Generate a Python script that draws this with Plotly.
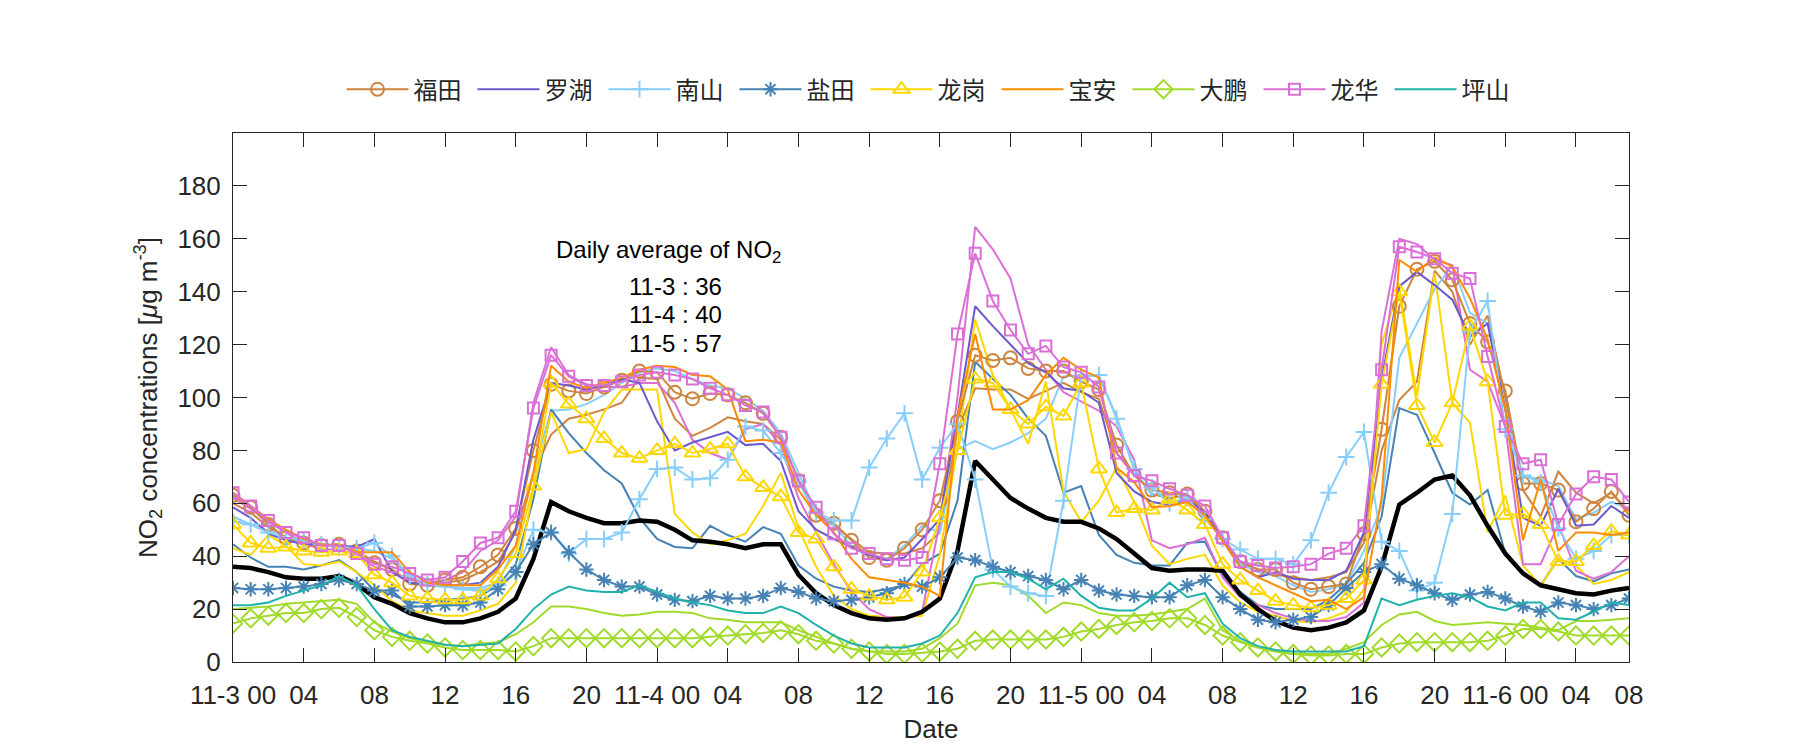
import plotly.graph_objects as go

hours = list(range(80))
tick_vals = [0, 4, 8, 12, 16, 20, 24, 28, 32, 36, 40, 44, 48, 52, 56, 60, 64, 68, 72, 76, 79]
tick_text = ["11-3 00", "04", "08", "12", "16", "20", "11-4 00", "04", "08", "12", "16", "20",
             "11-5 00", "04", "08", "12", "16", "20", "11-6 00", "04", "08"]
y_ticks = [0, 20, 40, 60, 80, 100, 120, 140, 160, 180]

# Observed stations (legend series)
futian = [63, 58.5, 52, 47, 45, 44, 44.5, 42, 37.5, 35, 29.5, 29, 31, 32,
          36, 40.5, 50.5, 80, 105, 102.5, 101.5, 104, 106.5, 110, 109.5, 102, 99.5,
          101.5, 101, 98, 94, 85, 68.5, 55.5, 52.5, 46, 39.5, 38.5, 43, 50,
          61, 91, 116, 114, 115, 111, 110, 110, 106, 103, 82, 70.5, 65,
          64, 63.5, 57, 47, 38, 35, 35, 30, 27.5, 28.5, 29.5, 48.5, 88,
          134.5, 148.5, 151.5, 144.5, 128, 121, 102.5, 67.5, 67.5, 65, 53, 58, 64.5, 55.5]
luohu = [58.5, 54.5, 48.5, 46, 44.5, 44.5, 44, 43.5, 46.5, 34, 30, 29, 29, 29,
         30, 36, 50, 84, 105.5, 104.5, 103, 104.5, 107, 105.5, 91, 80, 83,
         85, 87, 82, 82.5, 76, 57, 50, 46.5, 43.5, 40.5, 38.5, 39.5, 46.5,
         54, 93, 134.5, 127, 120, 113, 109.5, 103.5, 102.5, 98, 71.5, 64.5, 60.5,
         59.5, 61.5, 56.5, 46, 36, 32, 34, 31.5, 31, 31, 34.5, 49, 107,
         142, 147.5, 142.5, 137, 123, 128, 95.5, 54.5, 51.5, 65.5, 51.5, 52, 59, 54.5]
nanshan = [53, 52, 49, 47, 46, 44.5, 43.5, 43, 45, 40, 32.5, 29.5, 28.5, 27.5,
           27, 29, 34, 50, 49, 41, 46.5, 46.5, 49, 61.5, 73, 73.5, 69,
           69.5, 76.5, 89, 87.5, 79, 68, 56.5, 53.5, 53.5, 73.5, 84.5, 94, 69,
           81, 90, 69, 35, 28.5, 26, 25, 61, 108, 108.5, 92, 73, 66,
           60, 62, 54, 46.5, 42.5, 39, 39, 37, 46, 64, 77.5, 87, 45.5,
           42, 27, 30, 56, 125, 136.5, 88, 70.5, 68, 50.5, 39, 42, 48, 48]
yantian = [28, 27.5, 27.5, 28, 28.5, 29.5, 31, 29.5, 27, 27, 21, 21, 21.5, 21.5,
           22.5, 27.5, 34, 44.5, 49, 41.5, 35, 31, 28.5, 28.5, 25.5, 23.5, 23,
           25, 24, 24, 25, 28, 26.5, 24, 23, 23.5, 24.5, 26, 29.5, 28.5,
           32, 39.5, 38.5, 36, 34, 32.5, 31, 27.5, 31, 27, 25.5, 25, 24.5,
           24.5, 29, 31, 24.5, 20, 16, 15, 16, 17, 21.5, 28, 34, 37,
           31.5, 29, 26, 23.5, 25.5, 26.5, 24, 21, 19, 22.5, 21.5, 20, 21.5, 24]
longgang = [52, 45, 43, 43.5, 42, 41.5, 42, 41, 33, 30, 25, 24, 23.5, 23.5,
            25, 31.5, 41, 66.5, 105.5, 97.5, 92, 84.5, 79, 77, 80, 82.5, 79,
            80.5, 82.5, 70, 66, 62.5, 49, 46.5, 36, 27.5, 25, 23.5, 24.5, 34,
            54.5, 80, 107, 105.5, 95.5, 90, 96.5, 93, 105.5, 73, 56.5, 58, 57.5,
            61.5, 57.5, 52, 37, 31, 27, 23, 21.5, 20.5, 21.5, 24, 31, 105,
            140, 97, 83, 98, 127, 106, 55.5, 56, 52, 38, 38, 44, 49.5, 48]
baoan = [64, 59, 54, 50, 46.5, 44.5, 44, 41.5, 41.5, 41.5, 34, 30, 29, 29,
         29, 35, 44, 71.5, 112, 106, 103.5, 105.5, 107.5, 110.5, 112, 111.5, 108.5,
         108, 103, 83.5, 84, 83, 65, 55.5, 49, 39, 32, 31, 30, 28.5,
         25, 93, 124, 95.5, 95.5, 99, 108.5, 115, 110.5, 107.5, 73.5, 68, 58.5,
         59, 60.5, 55.5, 45.5, 36, 32, 29, 26, 23, 23.5, 20, 24.5, 62,
         152, 147.5, 153, 149.5, 137.5, 122, 95.5, 46, 69, 42, 49, 49, 48, 49]
dapeng = [14.5, 16.5, 17.5, 18.5, 18.5, 20, 20.5, 17, 12, 9.5, 8, 7, 5.5, 4.5,
          4.5, 4.5, 4, 6, 9, 9, 9, 9, 9, 9, 9, 9, 9,
          9.5, 10, 10.5, 11, 12, 10.5, 8, 7, 5, 4, 3, 3, 3.5,
          4, 5, 8, 8.5, 8.5, 8.5, 8.5, 9.5, 11.5, 12.5, 14, 15, 15.5,
          16.5, 16.5, 14, 10, 7.5, 5.5, 4, 3, 2.5, 2.5, 3, 3, 5.5,
          7, 7.5, 7.5, 7.5, 7.5, 8, 10, 12.5, 12.5, 11.5, 10, 10, 10, 10]
longhua = [64, 59, 53.5, 49, 47, 44, 44, 41, 37, 36, 33.5, 31, 32, 38,
           45, 47, 57, 96, 116, 108, 104.5, 104.5, 106, 108.5, 109.5, 108.5, 107,
           103.5, 101, 97, 94.5, 85, 68.5, 58.5, 48.5, 43, 41, 39, 38.5, 39.5,
           75, 124, 154.5, 136.5, 125.5, 116.5, 119.5, 111.5, 109.5, 104, 79, 70.5, 68.5,
           65.5, 63, 59, 47, 38, 36.5, 35.5, 36, 37, 41, 43, 51.5, 110.5,
           157, 155, 152.5, 147, 145, 115.5, 89, 75, 76.5, 52, 63.5, 70, 69, 60.5]
pingshan = [21.5, 21.5, 22.5, 25, 27, 29, 32.5, 29, 20, 12, 9.5, 8, 6.5, 6,
            6.5, 7, 12.5, 20, 25.5, 28.5, 27, 26.5, 26.5, 29, 26.5, 24, 22.5,
            21.5, 19.5, 18.5, 18.5, 21, 18.5, 14, 10, 7, 5.5, 5.5, 5.5, 7,
            10, 18.5, 32, 34, 34, 31.5, 27.5, 31.5, 25, 20.5, 19.5, 19.5, 24,
            30, 24.5, 26, 14.5, 9, 6, 4.5, 4, 4, 4, 4, 6, 24,
            21.5, 23.5, 25, 26, 24.5, 21, 19.5, 22.5, 22.5, 16.5, 16, 19, 22.5, 21.5]

# Unlabelled companion lines (same colours, no markers)
futian_b = [60, 56.5, 51, 47, 45, 44, 44.5, 42, 38, 35, 30, 29, 30, 31,
            34, 38, 49, 71.5, 86, 92, 93.5, 95.5, 98, 107.5, 107, 92, 85.5,
            88.5, 92.5, 91, 90, 84, 69, 55.5, 51.5, 46.5, 41.5, 41, 41, 43,
            49, 88, 103.5, 103, 103, 99.5, 102.5, 105.5, 102, 99.5, 79, 71.5, 63.5,
            62, 63, 56, 46, 37.5, 35, 33, 32, 31, 32, 34, 45, 80,
            99, 106, 148, 140, 120, 131, 100, 65, 55, 72, 64, 60, 64, 57]
nanshan_b = [55, 52, 49, 46.5, 45.5, 44.5, 44, 43, 42, 39, 32, 29, 28.5, 28,
             28, 30, 44, 72, 95, 95.5, 97.5, 101, 105.5, 109.5, 111, 110, 107,
             104.5, 103.5, 99.5, 95, 86.5, 71.5, 56.5, 51.5, 44, 39.5, 39, 44, 51.5,
             49, 80.5, 83.5, 80.5, 83, 86.5, 92, 108, 108.5, 108, 93, 72.5, 63,
             64, 62, 55, 46.5, 37, 34, 32.5, 29, 26.5, 27.5, 29.5, 42, 59,
             115, 128, 141, 150, 132, 128, 95.5, 70.5, 69, 66.5, 54, 56.5, 60.5, 58]
yantian_b = [44.5, 39.5, 36, 36, 35, 36.5, 38.5, 34, 27, 25.5, 22.5, 22.5, 23.5, 24,
             25, 29, 37, 61.5, 95.5, 86.5, 79, 72.5, 67.5, 54.5, 46.5, 43.5, 43,
             51.5, 48, 45.5, 51, 48.5, 36.5, 31.5, 28.5, 27, 26.5, 27.5, 29, 37,
             41, 61, 113.5, 107, 101, 92, 85.5, 64, 66.5, 48, 40.5, 37.5, 36.5,
             36.5, 45, 45.5, 32.5, 26.5, 21.5, 20, 20, 20, 23.5, 29.5, 37.5, 55,
             96, 93.5, 79, 64, 59.5, 65, 41, 33.5, 29, 39, 32.5, 30.5, 33.5, 35]
longgang_b = [43, 40.5, 48, 44, 37, 36.5, 38, 34, 29, 23, 19.5, 18.5, 17.5, 17.5,
              19.5, 22, 30, 65.5, 94.5, 79, 80.5, 94.5, 103, 103, 103, 56, 49,
              44.5, 46, 48.5, 59, 71.5, 50.5, 36, 25, 20, 17.5, 17, 17, 17.5,
              40.5, 81.5, 129.5, 108.5, 95.5, 82.5, 106, 64.5, 53, 61, 73.5, 60.5, 44,
              37, 39, 40.5, 29, 22.5, 19, 17.5, 15.5, 15, 16.5, 19, 27.5, 120,
              142, 100.5, 147, 98, 90.5, 49, 63, 36.5, 29, 39, 36.5, 29.5, 31, 34]
dapeng_b = [20, 20.5, 21, 22, 22.5, 23, 23.5, 22, 15, 11.5, 9, 7.5, 6.5, 6,
            7, 7.5, 10.5, 15, 21, 21, 20, 18.5, 17.5, 18, 19, 19, 18.5,
            16.5, 16, 15, 15, 15, 12, 9.5, 7, 5, 4, 4, 4, 5,
            9, 14.5, 29, 30, 29, 25, 18.5, 22.5, 21.5, 18.5, 17.5, 17.5, 18,
            19, 20, 24, 12, 8, 5.5, 4, 3, 3, 3, 5, 7.5, 14,
            18, 19, 15.5, 14, 14.5, 15, 14.5, 14, 13, 12, 15.5, 15.5, 16, 16.5]
longhua_b = [62, 58, 53, 49, 45, 42.5, 42.5, 40.5, 36, 34, 31, 30, 31, 34,
             42, 46, 55, 98, 119, 108.5, 105, 104, 104, 105.5, 105.5, 98, 84,
             79, 76.5, 88, 90, 82, 62, 49, 37, 26.5, 20, 17, 16.5, 19,
             53, 100, 164.5, 156, 145, 120, 110.5, 102, 98.5, 95, 89, 76.5, 46,
             43, 44.5, 47, 32, 24.5, 21.5, 18.5, 16.5, 15.5, 15.5, 17, 22.5, 125,
             160, 158, 152, 150, 110.5, 106, 89, 37, 37, 52, 34.5, 31.5, 34, 40]

average = [36, 35.5, 34, 32, 31.5, 31.5, 32.5, 29.5, 24.5, 22, 18.5, 16.5, 15, 15,
           16.5, 19, 24, 39, 60.5, 57, 54.5, 52.5, 52.5, 53.5, 53, 50, 46,
           45.5, 44.5, 43, 44.5, 44.5, 33, 26, 21.5, 18.5, 16.5, 16, 16.5, 19,
           24, 42, 76, 69, 62, 58, 54.5, 53, 53, 50.5, 46.5, 41, 35.5,
           34.5, 35, 35, 34.5, 25.5, 20, 15.5, 13, 12, 13, 15, 19.5, 36,
           59.5, 64, 69, 70.5, 63, 51.5, 41, 33.5, 29, 27.5, 26, 25.5, 27, 28]

daily_avg_title = "Daily average of NO<sub>2</sub>"
daily_avg_labels = ["11-3 : 36", "11-4 : 40", "11-5 : 57"]

C_FUTIAN = "#CD853F"
C_LUOHU = "#6A5ACD"
C_NANSHAN = "#87CEFA"
C_YANTIAN = "#4682B4"
C_LONGGANG = "#FFD700"
C_BAOAN = "#FF8C00"
C_DAPENG = "#A2DA2C"
C_LONGHUA = "#DA70D6"
C_PINGSHAN = "#20B2AA"

fig = go.Figure()

for vals, col in [(futian_b, C_FUTIAN), (nanshan_b, C_NANSHAN), (yantian_b, C_YANTIAN),
                  (longgang_b, C_LONGGANG), (dapeng_b, C_DAPENG), (longhua_b, C_LONGHUA)]:
    fig.add_trace(go.Scatter(x=hours, y=vals, mode="lines", line=dict(color=col, width=2),
                             showlegend=False, hoverinfo="skip"))

fig.add_trace(go.Scatter(x=hours, y=average, mode="lines", line=dict(color="black", width=4.5),
                         showlegend=False))

named = [
    ("福田", futian, C_FUTIAN, "circle-open", 13),
    ("罗湖", luohu, C_LUOHU, None, 0),
    ("南山", nanshan, C_NANSHAN, "cross-thin-open", 12),
    ("盐田", yantian, C_YANTIAN, "asterisk-open", 12),
    ("龙岗", longgang, C_LONGGANG, "triangle-up-open", 14),
    ("宝安", baoan, C_BAOAN, None, 0),
    ("大鹏", dapeng, C_DAPENG, "diamond-open", 14),
    ("龙华", longhua, C_LONGHUA, "square-open", 11),
    ("坪山", pingshan, C_PINGSHAN, None, 0),
]
for name, vals, col, sym, size in named:
    if sym:
        fig.add_trace(go.Scatter(x=hours, y=vals, mode="lines+markers", name=name,
                                 line=dict(color=col, width=2),
                                 marker=dict(symbol=sym, size=size, color=col,
                                             line=dict(color=col, width=2))))
    else:
        fig.add_trace(go.Scatter(x=hours, y=vals, mode="lines", name=name,
                                 line=dict(color=col, width=2)))

axis_common = dict(showline=True, linecolor="#262626", linewidth=1, mirror="ticks",
                   ticks="inside", ticklen=14, tickcolor="#262626", tickwidth=1,
                   showgrid=False, zeroline=False,
                   tickfont=dict(size=26, color="#262626"))

fig.update_layout(
    width=1800, height=750,
    margin=dict(l=233, r=171, t=133, b=86),
    paper_bgcolor="white", plot_bgcolor="white",
    font=dict(family="Liberation Sans, Arial, Noto Sans CJK SC", size=26, color="#262626"),
    xaxis=dict(range=[0, 79], tickmode="array", tickvals=tick_vals, ticktext=tick_text,
               ticklabelstandoff=10,
               title=dict(text="Date", font=dict(size=26), standoff=10), **axis_common),
    yaxis=dict(range=[0, 200], tickmode="array", tickvals=y_ticks, ticklabelstandoff=6,
               title=dict(text="NO<sub>2</sub> concentrations [<i>μ</i>g m<sup>-3</sup>]",
                          font=dict(size=26), standoff=12), **axis_common),
    legend=dict(orientation="h", x=0.5, xanchor="center", y=1.082, yanchor="middle",
                font=dict(family="Noto Sans CJK SC", size=24, color="#262626"),
                entrywidth=54, entrywidthmode="pixels", itemwidth=62,
                bgcolor="rgba(0,0,0,0)"),
    showlegend=True,
)

fig.add_annotation(xref="paper", yref="paper", x=(668 - 233) / 1396, y=(664 - 252) / 531,
                   text=daily_avg_title, showarrow=False,
                   xanchor="center", yanchor="middle", font=dict(size=24, color="black"))
for i, lab in enumerate(daily_avg_labels):
    fig.add_annotation(xref="paper", yref="paper", x=(675 - 233) / 1396,
                       y=(664 - (287 + 28.5 * i)) / 531, text=lab, showarrow=False,
                       xanchor="center", yanchor="middle", font=dict(size=24, color="black"))

fig.write_html("out.html")
